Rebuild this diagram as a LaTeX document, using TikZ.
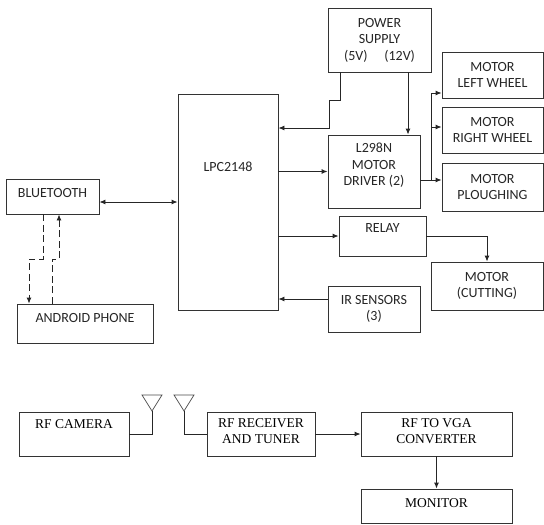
\documentclass[tikz,border=0pt]{standalone}
\usepackage{fontspec}
\setmainfont{Liberation Serif}
\newfontfamily\calibri{Carlito}
\usetikzlibrary{arrows.meta, backgrounds, positioning}

\begin{document}
\begin{tikzpicture}[
            background rectangle/.style={fill=white},
            show background rectangle,
            inner frame sep=0pt,
            x=1pt, y=-1pt,
            >={Latex[length=6pt, width=5pt]},
            lift/.style={text height=10pt, text depth=#1}
        ]

        \tikzstyle{block}=[
            draw=black!80,
            line width=0.9pt,
            shape=rectangle,
            align=center,
            inner sep=0pt,
            text=black!85,
            font=\calibri\fontsize{14}{16.5}\selectfont
        ]
        \tikzstyle{rfblock}=[block, text=black, font=\fontsize{13.5}{16}\selectfont]
        \tikzstyle{link}=[line width=0.9pt, black!85]
        \tikzstyle{wireless}=[link, dash pattern=on 7pt off 3.5pt]
        \tikzstyle{antenna}=[line width=0.7pt, black!70]

        \useasboundingbox (0,0) rectangle (544,525);

        % robot side
        \node[block, minimum width=100, minimum height=216, lift=71pt] (lpc) at (228,202) {LPC2148};
        \node[block, minimum width=93, minimum height=35, lift=8pt] (bt) at (52.5,196.5) {BLUETOOTH};
        \node[block, minimum width=136, minimum height=39, lift=13pt] (android) at (85,323.5) {ANDROID PHONE};
        \node[block, minimum width=103, minimum height=64] (power) at (379.5,40) {POWER\\SUPPLY\\(5V)\hspace{1.2em}(12V)};
        \node[block, minimum width=92, minimum height=73] (l298) at (374,171.5) {L298N\\MOTOR\\DRIVER (2)\\[-2pt]\mbox{}};
        \node[block, minimum width=101, minimum height=46] (mlw) at (492.5,75) {MOTOR\\LEFT WHEEL};
        \node[block, minimum width=101, minimum height=46] (mrw) at (492.5,130) {MOTOR\\RIGHT WHEEL};
        \node[block, minimum width=101, minimum height=48] (mpl) at (492.5,187) {MOTOR\\PLOUGHING};
        \node[block, minimum width=87, minimum height=40, lift=17pt] (relay) at (382.5,236) {RELAY};
        \node[block, minimum width=112, minimum height=48] (mcut) at (487,286) {MOTOR\\(CUTTING)};
        \node[block, minimum width=92, minimum height=46] (ir) at (374,309) {IR SENSORS\\(3)};

        \coordinate (btin) at ([yshift=-5.5pt]bt.east);
        \draw[link, <->] (btin) -- (btin -| lpc.west);
        \draw[wireless, ->] ([xshift=-9.5pt]bt.south) |- (29,259) -- ([xshift=-56pt]android.north);
        \draw[wireless, ->] ([xshift=-33pt]android.north) |- (59,259) -- ([xshift=6.5pt]bt.south);

        \draw[link, ->] ([xshift=-39.5pt]power.south) |- (329,100) |- ([yshift=74pt]lpc.east);
        \draw[link, ->] ([xshift=28.5pt]power.south) -- ([xshift=34pt]l298.north);
        \draw[link, ->] (l298.west -| lpc.east) -- (l298.west);

        \coordinate (split) at (431,180);
        \draw[link] ([yshift=-8.5pt]l298.east) -- (split);
        \draw[link, ->] (split) |- ([yshift=-18pt]mlw.west);
        \draw[link, ->] (split) |- ([yshift=3pt]mrw.west);
        \draw[link, ->] (split) -- (split -| mpl.west);

        \draw[link, ->] (relay.west -| lpc.east) -- (relay.west);
        \draw[link, ->] (relay.east) -| (mcut.north);
        \coordinate (irout) at ([yshift=10pt]ir.west);
        \draw[link, ->] (irout) -- (irout -| lpc.east);

        % camera side
        \node[rfblock, minimum width=110, minimum height=44, lift=22pt] (cam) at (74,434) {RF CAMERA};
        \node[rfblock, minimum width=108, minimum height=44] (rfrx) at (261,434) {RF RECEIVER\\AND TUNER\\[-10pt]\mbox{}};
        \node[rfblock, minimum width=151, minimum height=44] (vga) at (436.5,434) {RF TO VGA\\CONVERTER\\[-10pt]\mbox{}};
        \node[rfblock, minimum width=151, minimum height=34, lift=8pt] (monitor) at (436.5,506) {MONITOR};

        \coordinate (ant1) at (152,411);
        \coordinate (ant2) at (184,411);
        \draw[antenna] (ant1) -- ++(-10,-16) -- ++(20,0) -- cycle;
        \draw[antenna] (ant2) -- ++(-10,-16) -- ++(20,0) -- cycle;
        \draw[link] (cam.east) -| (ant1);
        \draw[link] (rfrx.west) -| (ant2);
        \draw[link, ->] (rfrx) -- (vga);
        \draw[link, ->] (vga) -- (monitor);

    \end{tikzpicture}
\end{document}
